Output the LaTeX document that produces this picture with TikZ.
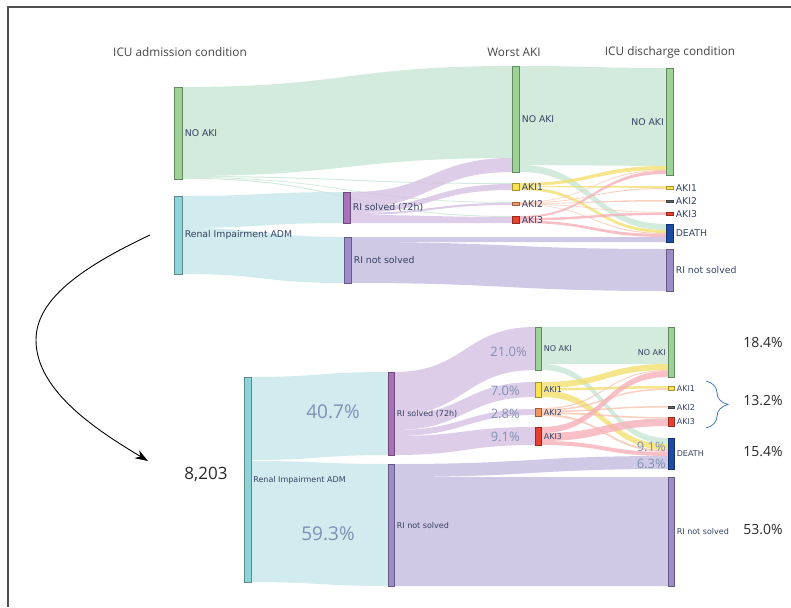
\documentclass[tikz,border=0pt]{standalone}
\usepackage{fontspec}
\setmainfont{Open Sans}
\newfontfamily\lblfont{DejaVu Sans}
\usetikzlibrary{positioning,calc,arrows.meta,decorations.pathreplacing}

% node colours
\definecolor{cGreenN}{RGB}{157,210,150}
\definecolor{cTealN}{RGB}{140,212,216}
\definecolor{cMauveN}{RGB}{168,114,184}
\definecolor{cLavN}{RGB}{156,140,200}
\definecolor{cYelN}{RGB}{248,226,80}
\definecolor{cOrgN}{RGB}{240,150,96}
\definecolor{cRedN}{RGB}{232,64,46}
\definecolor{cBlueN}{RGB}{30,76,164}
\definecolor{cGrayN}{RGB}{100,100,100}
% flow colours
\definecolor{cGreenF}{RGB}{200,230,212}
\definecolor{cTealF}{RGB}{198,230,234}
\definecolor{cMauveF}{RGB}{214,192,226}
\definecolor{cLavF}{RGB}{196,188,224}
\definecolor{cYelF}{RGB}{242,222,110}
\definecolor{cPinkF}{RGB}{246,176,184}
\definecolor{cOrgF}{RGB}{248,196,176}
% text colours
\definecolor{cLbl}{RGB}{52,66,98}
\definecolor{cPct}{RGB}{128,144,180}
\definecolor{cTtl}{RGB}{68,68,68}
\definecolor{cTot}{RGB}{40,40,40}
\definecolor{cBrace}{RGB}{70,120,190}
\definecolor{cFrame}{RGB}{80,80,80}

\pgfdeclarelayer{flows}
\pgfsetlayers{flows,main}

\tikzset{
  bar/.style={draw=#1!65!black, fill=#1, line width=0.6pt, inner sep=0pt,
    minimum width=7pt, anchor=north west},
  lbl/.style={font={\lblfont\fontsize{9.3}{10}\selectfont}, text=cLbl, inner sep=1pt},
  slbl/.style={font={\lblfont\fontsize{8}{9}\selectfont}, text=cLbl, inner sep=1pt},
  ttl/.style={font={\fontsize{11.8}{13}\selectfont}, text=cTtl},
  pct/.style={font={\fontsize{13}{15}\selectfont}, text=cPct, inner sep=0pt},
  bigpct/.style={font={\fontsize{19}{21}\selectfont}, text=cPct},
  tot/.style={font={\fontsize{14}{16}\selectfont}, text=cTot},
  fG/.style={fill=cGreenF, fill opacity=0.8},
  fT/.style={fill=cTealF, fill opacity=0.8},
  fM/.style={fill=cMauveF, fill opacity=0.8},
  fL/.style={fill=cLavF, fill opacity=0.8},
  fY/.style={fill=cYelF, fill opacity=0.8},
  fP/.style={fill=cPinkF, fill opacity=0.8},
  fO/.style={fill=cOrgF, fill opacity=0.8},
}

% band from node #1 (offsets #2..#3 below its top) to node #4 (offsets #5..#6)
\newcommand{\flowband}[7]{%
  \fill[#7] let \p1=(#1.east), \p2=(#4.west), \n1={0.5*(\x2-\x1)} in
    ([yshift=#2pt]#1.north east) .. controls +(\n1,0pt) and +(-\n1,0pt) .. ([yshift=#5pt]#4.north west)
    -- ([yshift=#6pt]#4.north west) .. controls +(-\n1,0pt) and +(\n1,0pt) .. ([yshift=#3pt]#1.north east) -- cycle;}

\begin{document}
\begin{tikzpicture}[x=1pt,y=1pt,yscale=-1]
\useasboundingbox (0,0) rectangle (791,607);

% frame
\draw[cFrame, line width=1.2pt] (8,607) -- (8,7) -- (791,7);

% column titles
\node[ttl] (ttlAdm) at (180,52) {ICU admission condition};
\node[ttl] (ttlWorst) at (514,52) {Worst AKI};
\node[ttl] (ttlDis) at (670,52) {ICU discharge condition};

%% upper diagram: bars
\node[bar=cGreenN, minimum width=8pt, minimum height=92pt] (tAdmNo) at (174,87) {};
\node[bar=cTealN, minimum width=8pt, minimum height=78pt] (tAdmRI) at (174,196) {};
\node[bar=cMauveN, minimum height=31pt] (tRISol) at (343,192) {};
\node[bar=cLavN, minimum height=46pt] (tRINot) at (344,237) {};
\node[bar=cGreenN, minimum height=106pt] (tWNo) at (512,66) {};
\node[bar=cYelN, minimum height=7pt] (tW1) at (512,183) {};
\node[bar=cOrgN, minimum height=3pt] (tW2) at (512,202) {};
\node[bar=cRedN, minimum height=7pt] (tW3) at (512,216) {};
\node[bar=cGreenN, minimum height=107pt] (tDNo) at (666,68) {};
\node[bar=cYelN, minimum height=3pt] (tD1) at (666,186) {};
\node[bar=cGrayN, minimum height=1.5pt] (tD2) at (666,200) {};
\node[bar=cRedN, minimum height=3pt] (tD3) at (666,212) {};
\node[bar=cBlueN, minimum height=18pt] (tDDe) at (666,224) {};
\node[bar=cLavN, minimum height=42pt] (tDNot) at (666,249) {};

% upper diagram: labels
\node[lbl, right=1pt of tAdmNo] (tAdmNoL) {NO AKI};
\node[lbl, right=1pt of tAdmRI] (tAdmRIL) {Renal Impairment ADM};
\node[lbl, right=1pt of tRISol] (tRISolL) {RI solved (72h)};
\node[lbl, right=1pt of tRINot] (tRINotL) {RI not solved};
\node[lbl, right=1pt of tWNo] (tWNoL) {NO AKI};
\node[lbl, right=1pt of tW1] (tW1L) {AKI1};
\node[lbl, right=1pt of tW2] (tW2L) {AKI2};
\node[lbl, right=1pt of tW3] (tW3L) {AKI3};
\node[lbl, left=1pt of tDNo] (tDNoL) {NO AKI};
\node[lbl, right=1pt of tD1] (tD1L) {AKI1};
\node[lbl, right=1pt of tD2] (tD2L) {AKI2};
\node[lbl, right=1pt of tD3] (tD3L) {AKI3};
\node[lbl, right=1pt of tDDe] (tDDeL) {DEATH};
\node[lbl, right=1pt of tDNot] (tDNotL) {RI not solved};

%% lower diagram: bars
\node[bar=cTealN, minimum width=6.5pt, minimum height=205pt] (bAdmRI) at (244,377) {};
\node[bar=cMauveN, minimum width=6pt, minimum height=83pt] (bRISol) at (388,372) {};
\node[bar=cLavN, minimum width=6pt, minimum height=122pt] (bRINot) at (388,464) {};
\node[bar=cGreenN, minimum width=6pt, minimum height=43pt] (bWNo) at (535,327) {};
\node[bar=cYelN, minimum width=6pt, minimum height=15pt] (bW1) at (535,382) {};
\node[bar=cOrgN, minimum width=6pt, minimum height=8pt] (bW2) at (535,408) {};
\node[bar=cRedN, minimum width=6pt, minimum height=18pt] (bW3) at (535,427) {};
\node[bar=cGreenN, minimum width=6pt, minimum height=50pt] (bDNo) at (668,327) {};
\node[bar=cYelN, minimum width=6pt, minimum height=4pt] (bD1) at (668,386) {};
\node[bar=cGrayN, minimum width=6pt, minimum height=1.5pt] (bD2) at (668,406) {};
\node[bar=cRedN, minimum width=6pt, minimum height=9pt] (bD3) at (668,417) {};
\node[bar=cBlueN, minimum width=6pt, minimum height=31pt] (bDDe) at (668,438) {};
\node[bar=cLavN, minimum width=6pt, minimum height=109pt] (bDNot) at (668,477) {};

% lower diagram: labels
\node[slbl, right=1pt of bAdmRI] (bAdmRIL) {Renal Impairment ADM};
\node[slbl, right=1pt of bRISol] (bRISolL) {RI solved (72h)};
\node[slbl, right=1pt of bRINot] (bRINotL) {RI not solved};
\node[slbl, right=1pt of bWNo] (bWNoL) {NO AKI};
\node[slbl, right=1pt of bW1] (bW1L) {AKI1};
\node[slbl, right=1pt of bW2] (bW2L) {AKI2};
\node[slbl, right=1pt of bW3] (bW3L) {AKI3};
\node[slbl, left=1pt of bDNo] (bDNoL) {NO AKI};
\node[slbl, right=1pt of bD1] (bD1L) {AKI1};
\node[slbl, right=1pt of bD2] (bD2L) {AKI2};
\node[slbl, right=1pt of bD3] (bD3L) {AKI3};
\node[slbl, right=1pt of bDDe] (bDDeL) {DEATH};
\node[slbl, right=1pt of bDNot] (bDNotL) {RI not solved};

% percentages
\node[font={\fontsize{17}{19}\selectfont}, text=cTot] (nTotal) at (206,474) {8,203};
\node[bigpct] (p407) at (333,412) {40.7\%};
\node[bigpct] (p593) at (328,534) {59.3\%};
\node[pct, anchor=east] (p210) at (527,352) {21.0\%};
\node[pct, anchor=east] (p070) at (520,391) {7.0\%};
\node[pct, anchor=east] (p028) at (520,414) {2.8\%};
\node[pct, anchor=east] (p091) at (520,437) {9.1\%};
\node[pct, anchor=east] (p091d) at (666,447) {9.1\%};
\node[pct, anchor=east] (p063) at (666,464) {6.3\%};
\node[tot] (t184) at (763,343) {18.4\%};
\node[tot] (t132) at (763,401) {13.2\%};
\node[tot] (t154) at (763,452) {15.4\%};
\node[tot] (t530) at (763,530) {53.0\%};

% brace over AKI1..AKI3
\coordinate (brTop) at (706,381);
\coordinate (brBot) at (706,428);
\draw[cBrace, line width=0.8pt, decorate, decoration={brace, amplitude=22pt}] (brTop) -- (brBot);

% curved arrow from upper to lower diagram
\coordinate (arrS) at (150,235);
\coordinate (arrE) at (148,461);
\draw[line width=0.9pt, -{Stealth[length=13pt,width=9pt]}] (arrS) .. controls (80,268) and (36,300) .. (36,340)
  .. controls (36,392) and (100,432) .. (arrE);

%% flows
\begin{pgfonlayer}{flows}
% upper
\flowband{tAdmNo}{0}{89}{tWNo}{0}{92}{fG}
\flowband{tAdmNo}{89}{90}{tW1}{0}{1}{fG}
\flowband{tAdmNo}{90}{90.8}{tW2}{0}{0.8}{fG}
\flowband{tAdmNo}{90.8}{91.8}{tW3}{0}{1}{fG}
\flowband{tAdmRI}{0}{32}{tRISol}{0}{31}{fT}
\flowband{tAdmRI}{32}{78}{tRINot}{0}{46}{fT}
\flowband{tRISol}{0}{16}{tWNo}{92}{106}{fM}
\flowband{tRISol}{16}{21}{tW1}{1}{7}{fM}
\flowband{tRISol}{21}{23}{tW2}{0.8}{3}{fM}
\flowband{tRISol}{23}{31}{tW3}{1}{7}{fM}
\flowband{tRINot}{0}{5}{tDDe}{13}{18}{fL}
\flowband{tRINot}{5}{46}{tDNot}{0}{42}{fL}
\flowband{tWNo}{0}{99}{tDNo}{0}{98}{fG}
\flowband{tWNo}{99}{106}{tDDe}{0}{6}{fG}
\flowband{tW1}{0}{3}{tDNo}{98}{102}{fY}
\flowband{tW1}{3}{4}{tD1}{0}{2}{fY}
\flowband{tW1}{4}{7}{tDDe}{6}{9}{fY}
\flowband{tW2}{0}{0.6}{tDNo}{102}{102.8}{fO}
\flowband{tW2}{0.6}{1.2}{tD1}{2}{3}{fO}
\flowband{tW2}{1.2}{1.8}{tD2}{0}{1.5}{fO}
\flowband{tW2}{1.8}{2.4}{tD3}{0}{0.6}{fO}
\flowband{tW2}{2.4}{3}{tDDe}{9}{10}{fO}
\flowband{tW3}{0}{2}{tDNo}{102.8}{106}{fP}
\flowband{tW3}{2}{4.5}{tD3}{0.6}{3}{fP}
\flowband{tW3}{4.5}{7}{tDDe}{10}{13}{fP}
% lower
\flowband{bAdmRI}{0}{83}{bRISol}{0}{83}{fT}
\flowband{bAdmRI}{84}{205}{bRINot}{0}{122}{fT}
\flowband{bRISol}{0}{43}{bWNo}{0}{43}{fM}
\flowband{bRISol}{43}{58}{bW1}{0}{15}{fM}
\flowband{bRISol}{58}{64}{bW2}{1}{7}{fM}
\flowband{bRISol}{64}{83}{bW3}{0}{18}{fM}
\flowband{bRINot}{0}{13}{bDDe}{18}{31}{fL}
\flowband{bRINot}{13}{122}{bDNot}{0}{109}{fL}
\flowband{bWNo}{0}{37}{bDNo}{0}{37}{fG}
\flowband{bWNo}{37}{43}{bDDe}{0}{6}{fG}
\flowband{bW1}{0}{6}{bDNo}{37}{43}{fY}
\flowband{bW1}{6}{8.5}{bD1}{0}{2.5}{fY}
\flowband{bW1}{8.5}{15}{bDDe}{6}{12}{fY}
\flowband{bW2}{0}{1.2}{bDNo}{43}{44}{fO}
\flowband{bW2}{1.2}{2.7}{bD1}{2.5}{4}{fO}
\flowband{bW2}{2.7}{4.2}{bD2}{0}{1.5}{fO}
\flowband{bW2}{4.2}{6}{bD3}{0}{1.5}{fO}
\flowband{bW2}{6}{8}{bDDe}{12}{14}{fO}
\flowband{bW3}{0}{6}{bDNo}{44}{50}{fP}
\flowband{bW3}{6}{14}{bD3}{1.5}{9}{fP}
\flowband{bW3}{14}{18}{bDDe}{14}{18}{fP}
\end{pgfonlayer}

\end{tikzpicture}
\end{document}
